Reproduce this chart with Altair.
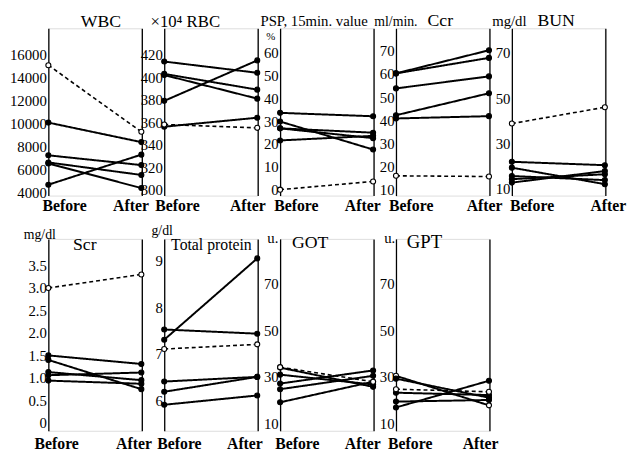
import altair as alt
import pandas as pd

FONT = "Liberation Serif"

# ---------------- data ----------------
# kinds: "s" = solid line / filled dots, "d" = dashed line / open dots, "o" = solid line / open dots
wbc_before = [10100, 7250, 6630, 6540, 4690, 15100]
wbc_after = [8400, 6400, 5540, 4400, 7310, 9300]
wbc_kind = ["s", "s", "s", "s", "s", "d"]
wbc_ticks = [4000, 6000, 8000, 10000, 12000, 14000, 16000]

rbc_before = [414, 403, 402, 379, 356, 358]
rbc_after = [404, 389, 381, 415, 364, 355]
rbc_kind = ["s", "s", "s", "s", "s", "d"]
rbc_ticks = [300, 320, 340, 360, 380, 400, 420]

psp_before = [33.7, 29.9, 26.9, 26.9, 21.6, 0.0]
psp_after = [32.2, 17.6, 25.0, 22.6, 23.6, 3.6]
psp_kind = ["s", "s", "s", "s", "s", "d"]
psp_ticks = [0, 10, 20, 30, 40, 50, 60]

ccr_before = [60.3, 60.3, 53.8, 42.2, 40.8, 16.0]
ccr_after = [70.3, 67.0, 59.0, 51.7, 41.8, 15.7]
ccr_kind = ["s", "s", "s", "s", "s", "d"]
ccr_ticks = [10, 20, 30, 40, 50, 60, 70]

bun_before = [21.9, 19.3, 15.6, 14.2, 12.7, 38.8]
bun_after = [20.4, 12.0, 13.8, 16.4, 17.8, 46.0]
bun_kind = ["s", "s", "s", "s", "s", "d"]
bun_ticks = [10, 30, 50, 70]

scr_before = [1.5, 1.4, 1.13, 1.06, 0.94, 3.0]
scr_after = [1.31, 0.75, 0.95, 1.12, 0.87, 3.3]
scr_kind = ["s", "s", "s", "s", "s", "d"]
scr_ticks = [0, 0.5, 1.0, 1.5, 2.0, 2.5, 3.0, 3.5]

tp_before = [7.3, 7.52, 6.4, 6.18, 5.9, 7.1]
tp_after = [9.05, 7.43, 6.5, 6.5, 6.1, 7.2]
tp_kind = ["s", "s", "s", "s", "s", "d"]
tp_ticks = [6, 7, 8, 9]

got_before = [34.0, 31.0, 27.2, 24.8, 19.2, 34.2]
got_after = [25.8, 26.8, 32.8, 30.5, 28.0, 28.0]
got_kind = ["s", "s", "s", "s", "s", "d"]
got_ticks = [10, 30, 50, 70]

gpt_before = [30.5, 29.3, 23.3, 19.5, 17.0, 24.8]
gpt_after = [17.9, 21.2, 22.3, 20.2, 28.4, 23.7]
gpt_kind = ["o", "s", "s", "s", "s", "d"]
gpt_ticks = [10, 30, 50, 70]

stage_labels = ["Before", "After"]

# ---------------- panel definitions ----------------
panels_top = [
    dict(b=wbc_before, a=wbc_after, k=wbc_kind, ticks=wbc_ticks, dom=[3743, 18314], bo=16, ao=-11,
         ann=[("WBC", 33, -1, 18)]),
    dict(b=rbc_before, a=rbc_after, k=rbc_kind, ticks=rbc_ticks, dom=[294.7, 443.6], bo=13, ao=-10,
         ann=[("×10⁴ RBC", -14, -1, 17)]),
    dict(b=psp_before, a=psp_after, k=psp_kind, ticks=psp_ticks, dom=[-2.6, 70.8], bo=16, ao=-11,
         ann=[("PSP, 15min. value", -20, -2, 15), ("%", -14, 12, 11)]),
    dict(b=ccr_before, a=ccr_after, k=ccr_kind, ticks=ccr_ticks, dom=[7.45, 79.8], bo=15, ao=-5,
         ann=[("ml/min.", -22, -2, 14), ("Ccr", 32, -2, 18)]),
    dict(b=bun_before, a=bun_after, k=bun_kind, ticks=bun_ticks, dom=[6.96, 80.9], bo=20, ao=3,
         ann=[("mg/dl", -20, -2, 15), ("BUN", 26, -2, 18)]),
]
panels_bottom = [
    dict(b=scr_before, a=scr_after, k=scr_kind, ticks=scr_ticks, dom=[-0.175, 4.09], bo=8, ao=-8,
         expr="datum.value == 0 ? '0' : format(datum.value, '.1f')",
         ann=[("mg/dl", -25, 0, 14), ("Scr", 25, 11, 18)]),
    dict(b=tp_before, a=tp_after, k=tp_kind, ticks=tp_ticks, dom=[5.34, 9.47], bo=15, ao=-13,
         ann=[("g/dl", -13, -4, 14), ("Total protein", 7, 11, 16)]),
    dict(b=got_before, a=got_after, k=got_kind, ticks=got_ticks, dom=[7.06, 88.9], bo=17, ao=-11,
         ann=[("u.", -13, 4, 15), ("GOT", 12, 9, 18)]),
    dict(b=gpt_before, a=gpt_after, k=gpt_kind, ticks=gpt_ticks, dom=[7.06, 88.9], bo=14, ao=-9,
         ann=[("u.", -12, 4, 15), ("GPT", 11, 9, 19)]),
]


def make_panel(p, w, h, lpad):
    rows = []
    for i, (bv, av, kd) in enumerate(zip(p["b"], p["a"], p["k"])):
        dash = "dashed" if kd == "d" else "solid"
        mk = "filled" if kd == "s" else "open"
        rows.append(dict(sid=i, x=0, v=bv, dash=dash, mk=mk))
        rows.append(dict(sid=i, x=1, v=av, dash=dash, mk=mk))
    df = pd.DataFrame(rows)

    x = alt.X(
        "x:Q",
        scale=alt.Scale(domain=[0, 1], nice=False, zero=False),
        axis=alt.Axis(
            values=[0, 1], grid=True, gridColor="black", gridWidth=1.3, gridOpacity=1,
            domain=False, ticks=False, title=None, labelFlush=False, labelOverlap=False,
            labelBound=False,
            labelExpr=f"datum.value == 0 ? '{stage_labels[0]}' : '{stage_labels[1]}'",
            labelOffset={"condition": {"test": "datum.value == 0", "value": p["bo"]}, "value": p["ao"]},
            labelFont=FONT, labelFontSize=16, labelFontWeight="bold", labelColor="black",
            labelPadding=lpad,
        ),
    )
    yax = dict(values=p["ticks"], domain=False, ticks=False, grid=False, title=None,
               labelFont=FONT, labelFontSize=15, labelColor="black", labelPadding=2,
               labelOverlap=False)
    if "expr" in p:
        yax["labelExpr"] = p["expr"]
    else:
        yax["format"] = "d"
    y = alt.Y("v:Q", scale=alt.Scale(domain=p["dom"], nice=False, zero=False), axis=alt.Axis(**yax))

    base = alt.Chart(df)
    lines = base.mark_line(color="black").encode(
        x=x, y=y, detail="sid:N",
        strokeDash=alt.StrokeDash("dash:N", scale=alt.Scale(domain=["solid", "dashed"], range=[[1, 0], [4, 3]]), legend=None),
        strokeWidth=alt.StrokeWidth("dash:N", scale=alt.Scale(domain=["solid", "dashed"], range=[2.0, 1.6]), legend=None),
    )
    pts = base.mark_circle(stroke="black", strokeWidth=1.1, opacity=1, size=26).encode(
        x=x, y=y,
        fill=alt.Fill("mk:N", scale=alt.Scale(domain=["filled", "open"], range=["black", "white"]), legend=None),
    )
    texts = []
    for (t, dx, dy, fs) in p["ann"]:
        texts.append(
            alt.Chart(alt.Data(values=[{}])).mark_text(
                x=dx, y=dy, align="left", baseline="alphabetic", font=FONT, fontSize=fs, color="black"
            ).encode(text=alt.value(t))
        )
    return alt.layer(lines, pts, *texts).properties(width=w, height=h)


top = alt.hconcat(*[make_panel(p, 94.5, 170, 2) for p in panels_top], spacing=22.75, bounds="flush")
bottom = alt.hconcat(*[make_panel(p, 94.5, 195, 5) for p in panels_bottom], spacing=22.75, bounds="flush")

chart = alt.vconcat(top, bottom, spacing=9).properties(
    padding={"left": 1, "top": 0, "right": 0, "bottom": 0}
).configure_view(stroke=None).configure(background="white")

chart.save("out.html", embed_options={"renderer": "svg", "actions": False})
